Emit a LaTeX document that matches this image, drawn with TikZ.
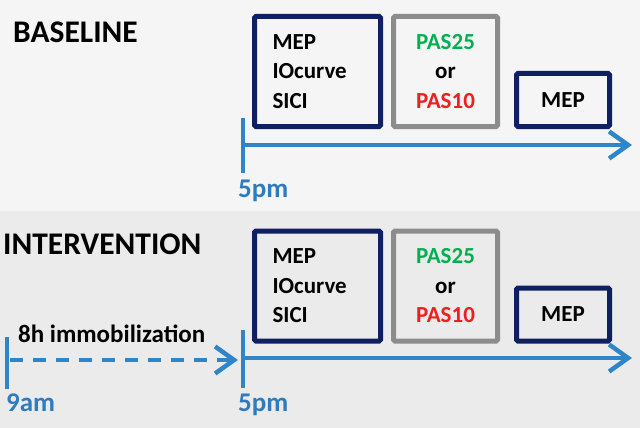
\documentclass[tikz,border=0pt]{standalone}
\usepackage{fontspec}
\setmainfont{Carlito}
\usepackage{tikz}
\usetikzlibrary{arrows.meta}
\definecolor{navybox}{HTML}{0F2060}
\definecolor{graybox}{HTML}{8C8C8C}
\definecolor{timeblue}{HTML}{2E86C8}
\definecolor{labelblue}{HTML}{2E7BBF}
\definecolor{pasgreen}{HTML}{00B050}
\definecolor{pasred}{HTML}{F01E1E}
\definecolor{bgtop}{HTML}{F5F5F5}
\definecolor{bgbottom}{HTML}{EBEBEB}

\begin{document}
\begin{tikzpicture}[x=1pt, y=-1pt,
		stage/.style={draw=navybox, line width=5pt, rounded corners=1.5pt, inner sep=0pt,
			font=\fontsize{23}{29.5}\selectfont\bfseries},
		pasbox/.style={stage, draw=graybox, align=center},
		title/.style={inner sep=0pt, anchor=base west, font=\fontsize{31.5}{36}\selectfont\bfseries},
		timelabel/.style={inner sep=0pt, anchor=base west, text=labelblue, font=\fontsize{27}{32}\selectfont\bfseries},
		timeline/.style={draw=timeblue, line width=3.5pt, -{Straight Barb[length=19pt, width=27pt, line width=4.5pt]}},
		tick/.style={draw=timeblue, line width=3.5pt}]
	\useasboundingbox (0,0) rectangle (640,428);
	% panels
	\fill[bgtop] (0,0) rectangle (640,211);
	\fill[bgbottom] (0,211) rectangle (640,428);
	
	% baseline
	\node[title] (base) at (13,43) {BASELINE};
	\node[stage, text width=90pt, align=left, minimum width=126pt, minimum height=110pt] (b1) at (317.5,71.5) {MEP\\IOcurve\\SICI};
	\node[pasbox, minimum width=104pt, minimum height=110pt] (b2) at (445.5,71.5) {\textcolor{pasgreen}{PAS25}\\or\\\textcolor{pasred}{PAS10}};
	\node[stage, minimum width=93pt, minimum height=53pt] (b3) at (563,100) {MEP};
	\coordinate (bs) at (243,145);
	\coordinate (be) at (632,145);
	\coordinate (bt1) at (243,118);
	\coordinate (bt2) at (243,173);
	\draw[tick] (bt1) -- (bt2);
	\draw[timeline] (bs) -- (be);
	\node[timelabel] (bpm) at (238,197) {5pm};
	
	% intervention
	\node[title] (inter) at (3,254) {INTERVENTION};
	\node[stage, text width=90pt, align=left, minimum width=126pt, minimum height=110pt] (i1) at (317.5,286) {MEP\\IOcurve\\SICI};
	\node[pasbox, minimum width=104pt, minimum height=110pt] (i2) at (445.5,286) {\textcolor{pasgreen}{PAS25}\\or\\\textcolor{pasred}{PAS10}};
	\node[stage, minimum width=93pt, minimum height=53pt] (i3) at (563,314.5) {MEP};
	\coordinate (is) at (243,358);
	\coordinate (ie) at (632,358);
	\coordinate (it1) at (243,330);
	\coordinate (it2) at (243,388);
	\coordinate (ds) at (7,360);
	\coordinate (de) at (238,360);
	\coordinate (dt1) at (7,337);
	\coordinate (dt2) at (7,389);
	\draw[tick] (it1) -- (it2);
	\draw[tick] (dt1) -- (dt2);
	\draw[timeline] (is) -- (ie);
	\draw[timeline, line width=4pt, dash pattern=on 13pt off 10pt, dash phase=-3pt] (ds) -- (de);
	\node[inner sep=0pt, anchor=base west, font=\fontsize{25}{30}\selectfont\bfseries] (immo) at (18,342) {8h immobilization};
	\node[timelabel] (ipm) at (238,411) {5pm};
	\node[timelabel] (iam) at (6,411) {9am};
\end{tikzpicture}
\end{document}
